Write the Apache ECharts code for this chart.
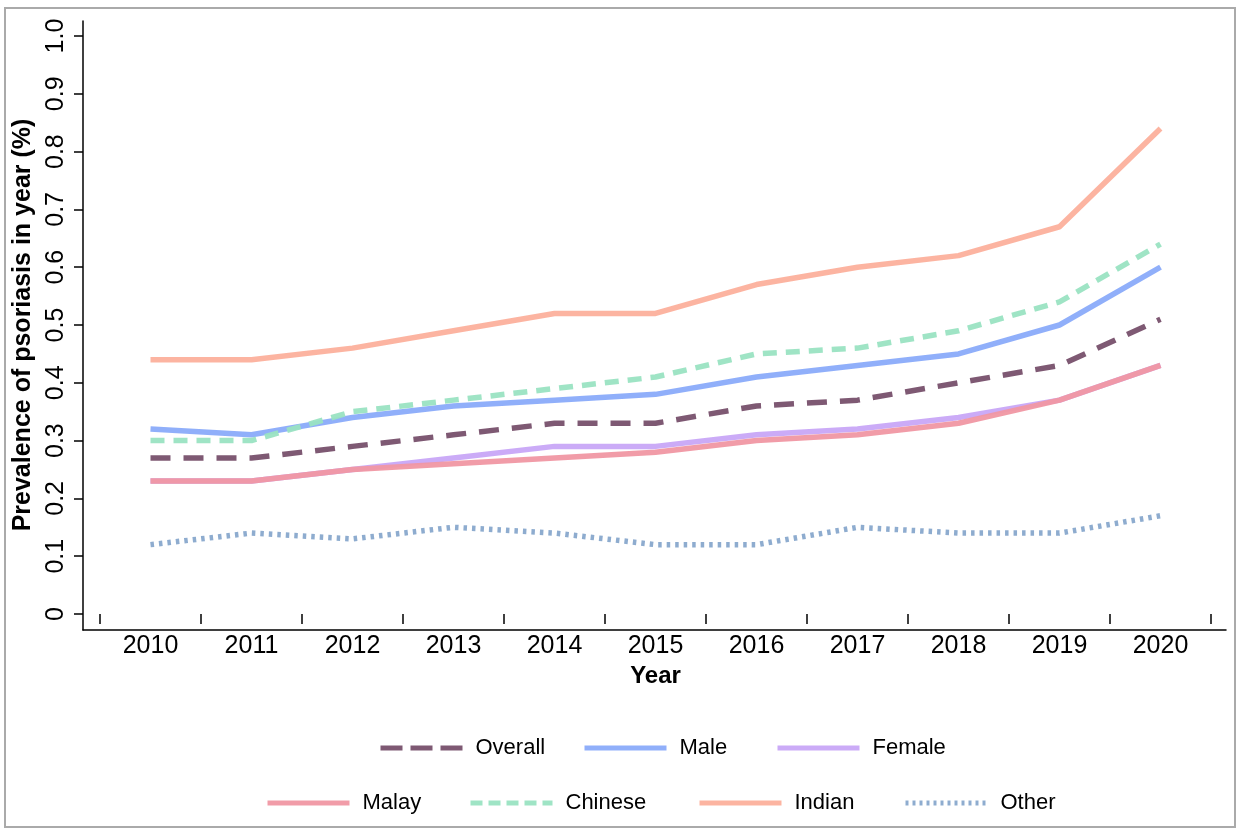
<!DOCTYPE html>
<html>
<head>
<meta charset="utf-8">
<script src="https://cdn.jsdelivr.net/npm/echarts@6/dist/echarts.min.js"></script>
<style>
html,body{margin:0;padding:0;background:#fff;}
#chart{width:1237px;height:829px;}
</style>
</head>
<body>
<div id="chart"></div>
<script>
var years = ['2010','2011','2012','2013','2014','2015','2016','2017','2018','2019','2020'];
var yTicks = [0,0.1,0.2,0.3,0.4,0.5,0.6,0.7,0.8,0.9,1.0];
var overall = [0.27,0.27,0.29,0.31,0.33,0.33,0.36,0.37,0.40,0.43,0.51];
var male    = [0.32,0.31,0.34,0.36,0.37,0.38,0.41,0.43,0.45,0.50,0.60];
var female  = [0.23,0.23,0.25,0.27,0.29,0.29,0.31,0.32,0.34,0.37,0.43];
var malay   = [0.23,0.23,0.25,0.26,0.27,0.28,0.30,0.31,0.33,0.37,0.43];
var chinese = [0.30,0.30,0.35,0.37,0.39,0.41,0.45,0.46,0.49,0.54,0.64];
var indian  = [0.44,0.44,0.46,0.49,0.52,0.52,0.57,0.60,0.62,0.67,0.84];
var other   = [0.12,0.14,0.13,0.15,0.14,0.12,0.12,0.15,0.14,0.14,0.17];

var FONT = '"Liberation Sans", Arial, Helvetica, sans-serif';

var seriesDefs = [
  {name:'Overall', data:overall, color:'#77506b', type:[20,13], legType:[22,8], lx:378, ly:745},
  {name:'Male',    data:male,    color:'#8aabfa', type:'solid', legType:'solid', lx:582, ly:745},
  {name:'Female',  data:female,  color:'#c8a7f7', type:'solid', legType:'solid', lx:775, ly:745},
  {name:'Malay',   data:malay,   color:'#f097a3', type:'solid', legType:'solid', lx:265, ly:800},
  {name:'Chinese', data:chinese, color:'#9ae3c2', type:[14,9], legType:[12,6], lx:468, ly:800},
  {name:'Indian',  data:indian,  color:'#fcb09c', type:'solid', legType:'solid', lx:697, ly:800},
  {name:'Other',   data:other,   color:'#88a8cc', type:[3.5,5], legType:[3,4], lx:903, ly:800}
];

var series = seriesDefs.map(function(d){
  return {
    name:d.name, type:'line', xAxisIndex:1, yAxisIndex:1,
    data:d.data, symbol:'none', smooth:false,
    itemStyle:{color:d.color},
    lineStyle:{color:d.color, width:5.5, type:d.type, opacity:0.95},
    z:3
  };
});

var legends = seriesDefs.map(function(d){
  return {
    data:[d.name], left:d.lx, top:d.ly-8, padding:0, itemWidth:82, itemHeight:16,
    itemStyle:{opacity:0},
    lineStyle:{width:5, type:d.legType, color:d.color},
    textStyle:{fontFamily:FONT, fontSize:22, color:'#000', padding:[0,0,0,8]},
    selectedMode:false
  };
});

var option = {
  animation:false,
  backgroundColor:'#fff',
  graphic:[{type:'rect', shape:{x:5,y:8,width:1230,height:819}, style:{fill:'none', stroke:'#aaaaaa', lineWidth:2}, z:-1}],
  legend:legends,
  grid:[
    {left:83, right:11, top:21, bottom:199},
    {left:100, right:26, top:36, bottom:215}
  ],
  xAxis:[
    {type:'value', gridIndex:0, min:0, max:1, axisLine:{show:true, lineStyle:{color:'#000', width:1.5}}, axisTick:{show:false}, axisLabel:{show:false}, splitLine:{show:false}},
    {type:'category', gridIndex:1, data:years, boundaryGap:true, offset:16,
     axisLine:{show:false},
     axisTick:{show:true, length:10, lineStyle:{color:'#000', width:1.5}},
     axisLabel:{fontFamily:FONT, fontSize:25, color:'#000', margin:4},
     name:'Year', nameLocation:'middle', nameGap:31,
     nameTextStyle:{fontFamily:FONT, fontSize:24, fontWeight:'bold', color:'#000'},
     splitLine:{show:false}}
  ],
  yAxis:[
    {type:'value', gridIndex:0, min:0, max:1, axisLine:{show:true, lineStyle:{color:'#000', width:1.5}}, axisTick:{show:false}, axisLabel:{show:false}, splitLine:{show:false}},
    {type:'value', gridIndex:1, min:yTicks[0], max:yTicks[yTicks.length-1], interval:0.1, offset:17,
     axisLine:{show:false},
     axisTick:{show:true, length:9, lineStyle:{color:'#000', width:1.5}},
     axisLabel:{fontFamily:FONT, fontSize:25, color:'#000', rotate:90, margin:14,
       formatter:function(v){ return v===0 ? '0' : v.toFixed(1); }},
     name:'Prevalence of psoriasis in year (%)', nameLocation:'middle', nameGap:37, nameRotate:90,
     nameTextStyle:{fontFamily:FONT, fontSize:25, fontWeight:'bold', color:'#000'},
     splitLine:{show:false}}
  ],
  series:series
};

var chart = echarts.init(document.getElementById('chart'), null, {renderer:'canvas'});
chart.setOption(option);
</script>
</body>
</html>
